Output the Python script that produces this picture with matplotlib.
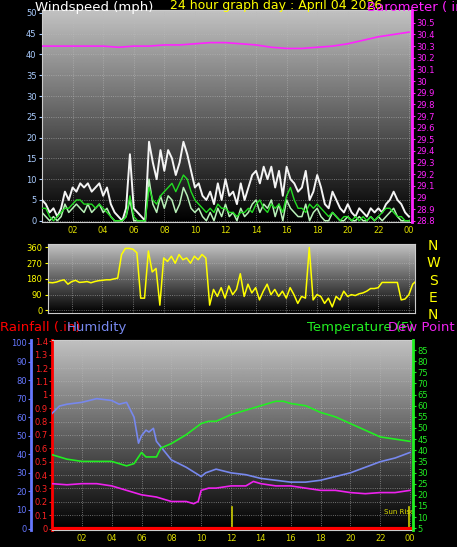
import numpy as np
import matplotlib
matplotlib.use("Agg")
import matplotlib.pyplot as plt

# ---------------- data ----------------
wind_gust = [5,4,2,3, 1,3,7,5, 8,7,9,8, 9,7,8,9, 6,8,4,2, 1,0,3,16, 3,2,1,0,
             19,14,10,17, 12,17,15,11, 14,19,16,12, 8,9,6,5, 7,4,9,5, 10,6,7,4,
             9,5,8,11, 12,9,13,10, 13,8,12,6, 13,10,9,7, 8,12,5,7, 11,8,4,3,
             7,5,3,2, 4,2,1,3, 2,1,3,2, 3,2,4,5, 7,5,4,2, 1]
wind_avg = [3,3,1,0, 1,2,3,3, 4,5,5,4, 4,4,3,4, 3,2,1,0, 0,0,1,6, 1,0,0,0,
            8,5,4,6, 7,8,9,7, 9,11,10,7, 5,4,3,2, 3,2,4,3, 3,2,2,1, 2,2,3,2,
            4,5,3,2, 4,3,4,2, 6,8,5,3, 3,2,4,3, 4,3,2,1, 2,1,0,1, 1,0,1,0,
            1,0,1,0, 1,2,3,3, 2,1,1,0, 0]
wind_speed = [2,1,0,1, 0,1,4,2, 3,4,3,2, 4,2,3,4, 2,3,1,0, 0,0,1,5, 0,0,0,0,
              10,4,2,6, 3,6,5,2, 4,8,6,3, 2,3,1,0, 2,0,3,1, 4,1,2,0, 3,1,2,4,
              5,2,4,3, 5,1,4,0, 5,3,2,1, 1,4,0,2, 3,1,0,0, 2,1,0,0, 1,0,0,1,
              0,0,1,0, 1,0,1,2, 3,1,0,0, 0]
baro_hours = list(range(25))
baro = [30.30,30.30,30.30,30.30,30.30,30.29,30.30,30.30,30.31,30.31,30.32,30.33,30.33,
        30.32,30.31,30.29,30.28,30.28,30.29,30.30,30.32,30.35,30.38,30.40,30.42]

wind_dir = [160,158,162,170, 175,150,165,172, 160,162,165,158, 165,170,172,175,
            175,180,185,320, 355,355,350,330, 70,70,340,220, 240,30,300,280,
            310,270,320,290, 300,270,310,290, 320,300,30,120, 80,130,70,140,
            90,120,210,80, 150,100,130,60, 110,150,90,120, 80,110,70,130,
            90,40,80,70, 360,60,90,80, 40,70,20,80, 60,110,80,90,
            85,95,100,110, 125,125,130,160, 160,160,160,160, 60,65,90,150, 170,185]

hum_hours = [0,0.5,1,2,3,4,4.5,5,5.5,5.8,6,6.3,6.5,6.8,7,7.5,8,9,10,10.3,11,12,13,14,15,16,17,18,19,20,21,22,23,24]
humidity = [62,66,67,68,70,69,67,68,60,46,50,53,52,54,47,42,37,33,28,30,32,30,29,27,26,25,25,26,28,30,33,36,38,41]
temp_hours = [0,1,2,3,4,5,5.5,6,6.3,6.7,7,7.3,8,9,10,10.5,11,12,13,14,15,15.5,16,17,18,19,20,21,22,23,24]
temperature = [38,36,35,35,35,33,34,39,37,37,37,41,43,47,52,53,53,56,58,60,62,62,61,60,57,55,52,49,46,45,44]
dew_hours = [0,1,2,3,4,5,6,7,8,9,9.5,9.8,10,10.5,11,12,13,13.5,14,15,16,17,18,19,20,21,22,23,24]
dew_point = [25,24.5,25,25,24,22,20,19,17,17,16,17,22,23,23,24,24,26,25,24,24,23,22,22,21,20.5,21,21,22]
rain_hours = [0, 24]
rain = [0, 0]
sun_events = [12.1, 23.9]

xtick_pos = list(range(2, 25, 2))
xtick_lab = ["02","04","06","08","10","12","14","16","18","20","22","00"]

# ---------------- figure ----------------
W, H = 457, 547
fig = plt.figure(figsize=(W/100, H/100), dpi=100, facecolor="black")

def rect(l, t, r, b):
    return [l/W, 1-b/H, (r-l)/W, (b-t)/H]

grad = np.linspace(0.76, 0.0, 256).reshape(-1, 1)

def style(ax, xlim):
    ax.set_facecolor("black")
    ax.imshow(grad, cmap="gray", vmin=0, vmax=1, aspect="auto",
              extent=[0, 1, 0, 1], transform=ax.transAxes, zorder=0)
    ax.set_xlim(*xlim)
    ax.set_xticks(xtick_pos)
    ax.set_xticklabels(xtick_lab)
    ax.tick_params(axis="x", colors="#dddd00", labelsize=6, length=0, pad=3)
    ax.grid(True, color="#bbbbbb", linestyle=":", linewidth=0.6, alpha=0.7)
    for s in ax.spines.values():
        s.set_color("#cccccc")

# --- top: wind / barometer ---
ax1 = fig.add_axes(rect(42, 10, 412, 222))
style(ax1, (0, 24.2))
wh = np.arange(len(wind_gust)) * 0.25
ax1.plot(wh, wind_gust, color="#f4f4f4", lw=1.4, zorder=3)
ax1.plot(wh, wind_speed, color="#b8f0b8", lw=1.1, zorder=4)
ax1.plot(wh, wind_avg, color="#22dd22", lw=1.0, zorder=5)
ax1.set_ylim(-0.3, 50.7)
ax1.set_yticks(range(0, 51, 5))
ax1.tick_params(axis="y", colors="#aaccff", labelsize=6, length=2, pad=2)
ax1b = ax1.twinx()
ax1b.plot(baro_hours, baro, color="#ff22ff", lw=1.2, zorder=6)
ax1b.set_ylim(28.79, 30.61)
bt = np.round(np.arange(28.8, 30.55, 0.1), 1)
ax1b.set_yticks(bt)
ax1b.set_yticklabels(["%g" % v for v in bt])
ax1b.tick_params(axis="y", colors="#ff22ff", labelsize=6, length=2, pad=1)
for s in ax1b.spines.values():
    s.set_visible(False)
ax1b.spines["right"].set_visible(True)
ax1b.spines["right"].set_color("#ff22ff")
ax1b.spines["right"].set_linewidth(2)

fig.text(35/W, 1-8/H, "Windspeed (mph)", color="white", fontsize=9.5, va="center")
fig.text(170/W, 1-6/H, "24 hour graph day : April 04 2026", color="yellow", fontsize=9, va="center")
fig.text(367/W, 1-8/H, "Barometer ( in)", color="#ff22ff", fontsize=9.5, va="center")

# --- middle: wind direction ---
ax2 = fig.add_axes(rect(48, 244, 415, 313))
style(ax2, (0.45, 24.4))
dh = 0.5 + np.arange(len(wind_dir)) * 0.25
ax2.plot(dh, wind_dir, color="#ffff00", lw=1.1, zorder=3)
ax2.set_ylim(-15, 380)
ax2.set_yticks([0, 90, 180, 270, 360])
ax2.tick_params(axis="y", colors="#ffff00", labelsize=6, length=2, pad=2)
ax2.tick_params(axis="x", labelbottom=False, labeltop=False)
for i, c in enumerate(["N", "W", "S", "E", "N"]):
    fig.text(433/W, 1-(246+17.3*i)/H, c, color="yellow", fontsize=10, ha="center", va="center")

# --- bottom: humidity/rain/temp/dew ---
ax3 = fig.add_axes(rect(52, 340, 413, 530))
style(ax3, (0, 24.2))
ax3.plot(rain_hours, rain, color="red", lw=3, zorder=7)
ax3.set_ylim(-0.011, 1.41)
rt = np.round(np.arange(0, 1.45, 0.1), 1)
ax3.set_yticks(rt)
ax3.set_yticklabels(["%g" % v for v in rt])
ax3.tick_params(axis="y", colors="#ff2222", labelsize=6, length=2, pad=1)
ax3.spines["left"].set_color("red")
ax3.spines["left"].set_linewidth(2)
for x in sun_events:
    ax3.axvline(x, ymin=0, ymax=0.12, color="#cccc00", lw=1.2, zorder=6)
ax3.text(23.3, 0.11, "Sun Rise", color="#dddd00", fontsize=5, ha="center", zorder=8)

axh = ax3.twinx()
axh.yaxis.set_ticks_position("left")
axh.spines["left"].set_position(("axes", -0.058))
axh.spines["left"].set_color("#6677ff")
axh.spines["left"].set_linewidth(2)
for s in ["right", "top", "bottom"]:
    axh.spines[s].set_visible(False)
axh.plot(hum_hours, humidity, color="#7788ee", lw=1.2, zorder=4)
axh.set_ylim(-0.8, 101.6)
axh.set_yticks(range(0, 101, 10))
axh.tick_params(axis="y", colors="#6677ff", labelsize=6, length=2, pad=1)

axt = ax3.twinx()
axt.plot(temp_hours, temperature, color="#22ee22", lw=1.2, zorder=4)
axt.plot(dew_hours, dew_point, color="#ee22ee", lw=1.2, zorder=4)
axt.set_ylim(4.2, 89.5)
axt.set_yticks(range(5, 86, 5))
axt.tick_params(axis="y", colors="#22ee22", labelsize=6, length=2, pad=1)
for s in ["left", "top", "bottom"]:
    axt.spines[s].set_visible(False)
axt.spines["right"].set_color("#22ee22")
axt.spines["right"].set_linewidth(2)

fig.text(0/W, 1-328/H, "Rainfall (.in)", color="red", fontsize=9.5, va="center")
fig.text(67/W, 1-328/H, "Humidity", color="#7788ee", fontsize=9.5, va="center")
fig.text(307/W, 1-328/H, "Temperature (F)", color="#22ee22", fontsize=9.5, va="center")
fig.text(388/W, 1-328/H, "Dew Point (", color="#ee22ee", fontsize=9.5, va="center")

fig.savefig("out.png", dpi=100, facecolor="black")
